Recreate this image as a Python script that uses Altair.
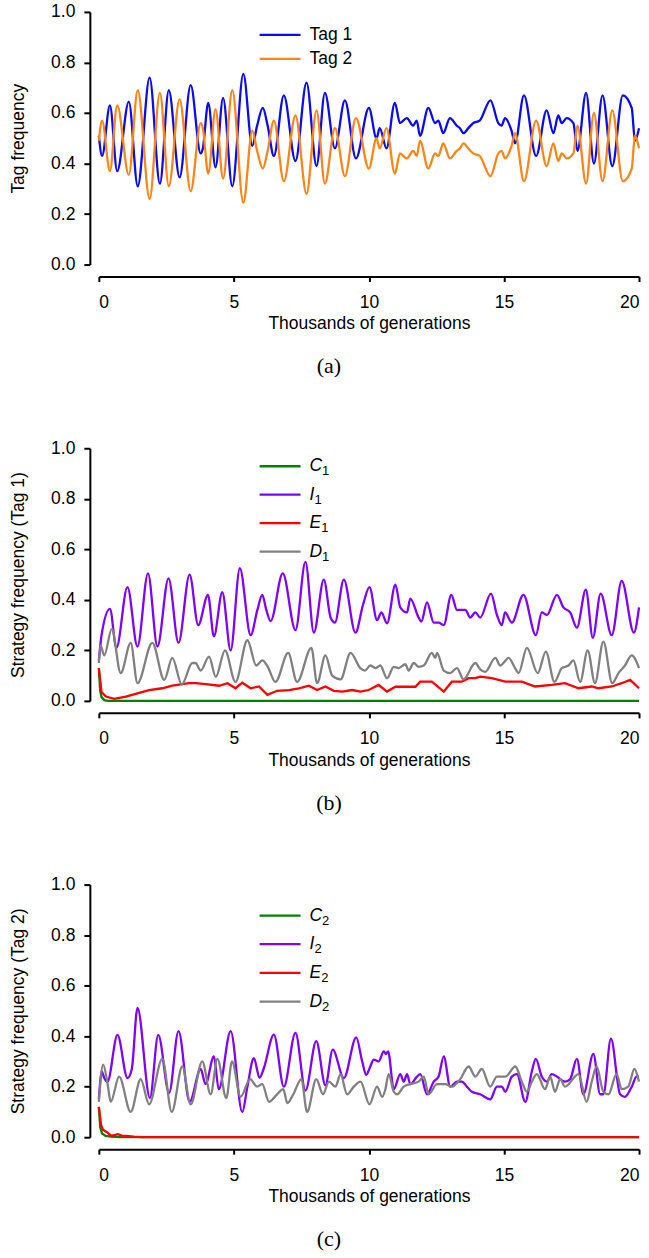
import altair as alt
import pandas as pd

# ---------------- data ----------------
x_ticks = [0, 5, 10, 15, 20]
y_ticks = [0.0, 0.2, 0.4, 0.6, 0.8, 1.0]

# panel (a): tag frequencies
tag_x = [0, 0.12, 0.41, 0.68, 1.11, 1.44, 1.88, 2.26, 2.59, 2.99, 3.40, 3.77, 3.85, 4.05, 4.32,
         4.60, 4.94, 5.35, 5.68, 5.86, 6.07, 6.25, 6.48, 6.85, 7.28, 7.69, 8.06, 8.37, 8.74, 9.11,
         9.52, 10.0, 10.28, 10.4, 10.65, 10.96, 11.15, 11.4, 11.64, 11.77, 11.89, 12.2, 12.45, 12.57,
         12.75, 13.0, 13.25, 13.37, 13.5, 13.68, 13.86, 14.1, 14.5, 14.79, 14.91, 15.04, 15.28, 15.41,
         15.74, 16.19, 16.58, 16.83, 17.01, 17.14, 17.32, 17.57, 17.72, 18.04, 18.33, 18.65, 19.01,
         19.4, 19.73, 19.85, 20.0]
tag1 = [0.51, 0.43, 0.63, 0.37, 0.645, 0.31, 0.74, 0.32, 0.69, 0.345, 0.71, 0.44, 0.46, 0.64, 0.385,
        0.66, 0.31, 0.755, 0.47, 0.55, 0.62, 0.55, 0.43, 0.67, 0.41, 0.72, 0.39, 0.68, 0.46, 0.65,
        0.42, 0.62, 0.50, 0.54, 0.46, 0.64, 0.56, 0.58, 0.55, 0.57, 0.51, 0.62, 0.56, 0.57,
        0.52, 0.58, 0.55, 0.54, 0.52, 0.54, 0.56, 0.57, 0.65, 0.56, 0.55, 0.58, 0.53, 0.48,
        0.67, 0.43, 0.61, 0.52, 0.59, 0.56, 0.58, 0.56, 0.45, 0.68, 0.40, 0.67, 0.39,
        0.67, 0.62, 0.49, 0.54]
tag2 = [0.49, 0.57, 0.37, 0.63, 0.355, 0.69, 0.26, 0.68, 0.31, 0.655, 0.29, 0.56, 0.54, 0.36, 0.615,
        0.34, 0.69, 0.245, 0.53, 0.45, 0.38, 0.45, 0.57, 0.33, 0.59, 0.28, 0.61, 0.32, 0.54, 0.35,
        0.58, 0.38, 0.50, 0.46, 0.54, 0.36, 0.44, 0.42, 0.45, 0.43, 0.49, 0.38, 0.44, 0.43,
        0.48, 0.42, 0.45, 0.46, 0.48, 0.46, 0.44, 0.43, 0.35, 0.44, 0.45, 0.42, 0.47, 0.52,
        0.33, 0.57, 0.39, 0.48, 0.41, 0.44, 0.42, 0.44, 0.55, 0.32, 0.60, 0.33, 0.61,
        0.33, 0.38, 0.51, 0.46]

# panel (b): strategies with tag 1
b_c_x = [0, 0.05, 0.1, 0.2, 0.35, 20]
b_c = [0.13, 0.04, 0.015, 0.003, 0.0, 0.0]
b_i_x = [0, 0.1, 0.41, 0.65, 1.06, 1.43, 1.82, 2.17, 2.58, 2.95, 3.36, 3.68, 4.04, 4.26, 4.57,
         4.88, 5.22, 5.62, 5.87, 6.05, 6.2, 6.36, 6.81, 7.28, 7.65, 7.96, 8.33, 8.58, 8.74, 9.07,
         9.5, 9.78, 10.02, 10.3, 10.46, 10.67, 10.98, 11.16, 11.41, 11.53, 11.84, 11.94, 12.15, 12.4,
         12.58, 12.77, 13.05, 13.26, 13.57, 13.75, 13.94, 14.12, 14.52, 14.74, 14.92, 15.04, 15.29,
         15.72, 16.18, 16.4, 16.59, 16.96, 17.2, 17.45, 17.7, 18.03, 18.29, 18.58, 18.99, 19.36,
         19.81, 20.0]
b_i = [0.16, 0.26, 0.364, 0.21, 0.45, 0.215, 0.505, 0.215, 0.485, 0.23, 0.50, 0.30, 0.42, 0.255, 0.43,
       0.20, 0.525, 0.26, 0.36, 0.42, 0.36, 0.316, 0.505, 0.28, 0.55, 0.27, 0.48, 0.33, 0.31, 0.48,
       0.27, 0.38, 0.45, 0.32, 0.35, 0.307, 0.46, 0.37, 0.35, 0.405, 0.33, 0.314, 0.39, 0.31,
       0.31, 0.30, 0.42, 0.36, 0.36, 0.33, 0.35, 0.33, 0.425, 0.34, 0.30, 0.35, 0.31,
       0.42, 0.26, 0.35, 0.34, 0.42, 0.37, 0.35, 0.29, 0.44, 0.25, 0.425, 0.26, 0.475,
       0.27, 0.37]
b_e_x = [0, 0.1, 0.26, 0.57, 1.0, 1.43, 1.86, 2.35, 2.72, 3.34, 3.59, 3.96, 4.45, 4.76, 5.06,
         5.31, 5.62, 5.93, 6.24, 6.6, 7.04, 7.41, 7.78, 8.08, 8.39, 8.7, 9.01, 9.38, 9.69, 9.99,
         10.36, 10.67, 10.98, 11.72, 11.9, 12.33, 12.77, 13.07, 13.44, 13.69, 13.94, 14.12, 14.55,
         15.05, 15.66, 16.15, 16.77, 17.26, 17.76, 18.25, 18.5, 18.99, 19.36, 19.67, 20.0]
b_e = [0.13, 0.035, 0.017, 0.008, 0.017, 0.03, 0.043, 0.05, 0.06, 0.07, 0.07, 0.066, 0.06, 0.07, 0.05,
       0.072, 0.05, 0.057, 0.024, 0.04, 0.043, 0.05, 0.06, 0.043, 0.057, 0.04, 0.037, 0.043, 0.037, 0.043,
       0.063, 0.037, 0.056, 0.056, 0.076, 0.076, 0.037, 0.076, 0.076, 0.09, 0.09, 0.096, 0.09,
       0.076, 0.076, 0.057, 0.063, 0.07, 0.05, 0.057, 0.05, 0.057, 0.07, 0.083, 0.05]
b_d_x = [0, 0.06, 0.2, 0.48, 0.81, 1.18, 1.43, 1.98, 2.42, 2.72, 3.07, 3.46, 3.58, 3.77, 4.08,
         4.33, 4.67, 5.06, 5.5, 5.83, 6.05, 6.23, 6.54, 7.01, 7.34, 7.87, 8.08, 8.39, 8.64, 8.95,
         9.32, 9.68, 9.85, 10.05, 10.24, 10.42, 10.67, 10.92, 11.1, 11.35, 11.47, 11.66, 11.84, 12.03,
         12.33, 12.46, 12.52, 12.77, 13.01, 13.26, 13.5, 13.94, 14.12, 14.3, 14.68, 14.86, 14.98,
         15.17, 15.41, 15.54, 15.85, 16.25, 16.55, 16.87, 17.14, 17.39, 17.57, 17.82, 18.1, 18.37,
         18.68, 19.01, 19.24, 19.48, 19.73, 20.0]
b_d = [0.15, 0.22, 0.18, 0.285, 0.11, 0.23, 0.07, 0.23, 0.083, 0.17, 0.065, 0.15, 0.15, 0.12, 0.175,
       0.095, 0.20, 0.075, 0.24, 0.14, 0.16, 0.14, 0.075, 0.19, 0.075, 0.21, 0.07, 0.18, 0.10, 0.085,
       0.19, 0.13, 0.12, 0.14, 0.13, 0.14, 0.09, 0.135, 0.13, 0.145, 0.12, 0.15, 0.135, 0.14,
       0.19, 0.17, 0.19, 0.12, 0.11, 0.13, 0.085, 0.15, 0.125, 0.115, 0.17, 0.14, 0.15,
       0.17, 0.13, 0.11, 0.21, 0.11, 0.195, 0.075, 0.13, 0.14, 0.16, 0.075, 0.20, 0.07,
       0.235, 0.07, 0.11, 0.14, 0.18, 0.13]

# panel (c): strategies with tag 2
c_c_x = [0, 0.05, 0.12, 0.25, 0.45, 0.8, 20]
c_c = [0.12, 0.04, 0.015, 0.005, 0.002, 0.0, 0.0]
c_i_x = [0, 0.11, 0.2, 0.32, 0.69, 1.06, 1.22, 1.43, 1.89, 2.2, 2.6, 2.95, 3.36, 3.77, 3.95,
         4.26, 4.44, 4.88, 5.31, 5.5, 5.74, 5.95, 6.1, 6.48, 6.85, 7.28, 7.65, 8.05, 8.39, 8.66,
         9.07, 9.53, 9.75, 9.9, 10.05, 10.18, 10.36, 10.55, 10.63, 10.71, 10.92, 11.16, 11.29, 11.41,
         11.53, 11.78, 11.9, 12.15, 12.4, 12.58, 12.77, 13.01, 13.26, 13.44, 13.63, 13.81, 14.12,
         14.49, 14.74, 14.92, 15.05, 15.29, 15.48, 15.79, 16.03, 16.18, 16.4, 16.59, 16.77, 16.96,
         17.26, 17.45, 17.7, 17.94, 18.31, 18.56, 18.68, 18.96, 19.3, 19.48, 19.73, 19.91, 20.0]
c_i = [0.15, 0.26, 0.234, 0.22, 0.405, 0.234, 0.27, 0.512, 0.155, 0.405, 0.175, 0.42, 0.14, 0.27, 0.21,
       0.32, 0.19, 0.42, 0.10, 0.20, 0.313, 0.235, 0.27, 0.406, 0.20, 0.413, 0.185, 0.38, 0.205, 0.347,
       0.234, 0.395, 0.30, 0.247, 0.28, 0.307, 0.30, 0.34, 0.33, 0.34, 0.19, 0.25, 0.22, 0.25,
       0.21, 0.24, 0.25, 0.17, 0.22, 0.24, 0.32, 0.20, 0.22, 0.22, 0.20, 0.18, 0.17,
       0.15, 0.20, 0.20, 0.18, 0.24, 0.25, 0.14, 0.26, 0.31, 0.24, 0.22, 0.25, 0.24,
       0.22, 0.23, 0.31, 0.17, 0.33, 0.17, 0.17, 0.39, 0.17, 0.16, 0.20, 0.24, 0.24]
c_e_x = [0, 0.08, 0.15, 0.3, 0.45, 0.58, 0.7, 0.85, 1.0, 1.3, 1.6, 20]
c_e = [0.12, 0.05, 0.03, 0.02, 0.006, 0.008, 0.012, 0.006, 0.005, 0.002, 0.0, 0.0]
c_d_x = [0, 0.16, 0.32, 0.44, 0.75, 1.18, 1.55, 1.86, 2.35, 2.7, 3.09, 3.4, 3.83, 4.14, 4.39,
         4.72, 4.93, 5.25, 5.6, 5.86, 6.05, 6.3, 6.6, 6.83, 6.98, 7.2, 7.5, 7.71, 8.05, 8.3,
         8.52, 8.76, 8.95, 9.19, 9.44, 9.69, 10.02, 10.3, 10.49, 10.61, 10.73, 10.92, 11.04, 11.29,
         11.53, 11.84, 12.03, 12.21, 12.52, 12.83, 13.07, 13.38, 13.69, 13.94, 14.18, 14.49, 14.74,
         15.05, 15.42, 15.66, 15.85, 16.03, 16.22, 16.52, 16.71, 16.89, 17.08, 17.26, 17.76, 18.06,
         18.25, 18.43, 18.68, 18.87, 19.17, 19.36, 19.6, 19.83, 20.0]
c_d = [0.14, 0.287, 0.214, 0.14, 0.24, 0.10, 0.23, 0.13, 0.31, 0.10, 0.28, 0.13, 0.30, 0.17, 0.31,
       0.155, 0.30, 0.16, 0.23, 0.20, 0.21, 0.14, 0.17, 0.19, 0.135, 0.17, 0.23, 0.10, 0.23, 0.17,
       0.22, 0.20, 0.25, 0.17, 0.20, 0.22, 0.13, 0.20, 0.16, 0.19, 0.25, 0.18, 0.17, 0.20,
       0.21, 0.22, 0.24, 0.17, 0.21, 0.21, 0.20, 0.23, 0.28, 0.24, 0.27, 0.20, 0.24,
       0.24, 0.28, 0.22, 0.18, 0.22, 0.25, 0.19, 0.24, 0.18, 0.23, 0.20, 0.25, 0.14,
       0.22, 0.28, 0.18, 0.17, 0.25, 0.19, 0.20, 0.27, 0.22]

tag_names = ["Tag 1", "Tag 2"]
strategy_letters = ["C", "I", "E", "D"]

# ---------------- style ----------------
BLUE, ORANGE = "#0a0af5", "#ff8517"
GREEN, PURPLE, RED, GRAY = "#008000", "#8000ff", "#ff0000", "#808080"
FONT = "Liberation Sans"
FS = 17.5
W, H = 541, 253
LW = 2.3
LETTER_W = {"C": 12.6, "I": 4.9, "E": 11.7, "D": 12.6}

xscale = alt.Scale(domain=[0, 20], nice=False, zero=False)
yscale = alt.Scale(domain=[0, 1], nice=False)

x_axis = alt.Axis(values=x_ticks, offset=12, tickSize=5, tickWidth=2, domainWidth=2,
                  domainColor="black", tickColor="black", labelColor="black", titleColor="black",
                  labelFont=FONT, labelFontSize=FS, titleFont=FONT, titleFontSize=FS,
                  titleFontWeight="normal", labelPadding=12, titlePadding=4, grid=False, format="d",
                  title="Thousands of generations")


def y_axis(title):
    return alt.Axis(values=y_ticks, offset=9, tickSize=6, tickWidth=2, domainWidth=2,
                    domainColor="black", tickColor="black", labelColor="black", titleColor="black",
                    labelFont=FONT, labelFontSize=FS, titleFont=FONT, titleFontSize=FS,
                    titleFontWeight="normal", labelPadding=9, titlePadding=23, grid=False,
                    format=".1f", title=title)


def panel(series, ytitle, caption, legend, leg_y0, leg_dy, subscript=None):
    layers = []
    yax = y_axis(ytitle)
    for k, (xs, ys, color, interp) in enumerate(series):
        assert len(xs) == len(ys), (caption, k, len(xs), len(ys))
        df = pd.DataFrame({"x": xs, "y": ys})
        layers.append(
            alt.Chart(df).mark_line(color=color, strokeWidth=LW, interpolate=interp).encode(
                x=alt.X("x:Q", scale=xscale, axis=x_axis),
                y=alt.Y("y:Q", scale=yscale, axis=yax),
            )
        )
    for i, (label, color) in enumerate(legend):
        yy = leg_y0 + i * leg_dy
        one = pd.DataFrame({"t": [label]})
        layers.append(alt.Chart(one).mark_rule(color=color, strokeWidth=LW).encode(
            x=alt.value(161), x2=alt.value(202), y=alt.value(yy)))
        layers.append(alt.Chart(one).mark_text(
            align="left", baseline="middle", font=FONT, fontSize=FS, color="black",
            fontStyle="italic" if subscript else "normal").encode(
            x=alt.value(211), y=alt.value(yy), text="t:N"))
        if subscript:
            sub = pd.DataFrame({"t": [subscript]})
            layers.append(alt.Chart(sub).mark_text(
                align="left", baseline="middle", font=FONT, fontSize=13, color="black").encode(
                x=alt.value(211 + LETTER_W[label]), y=alt.value(yy + 5), text="t:N"))
    return alt.layer(*layers).properties(
        width=W, height=H,
        title=alt.TitleParams(caption, orient="bottom", anchor="middle", dx=-40, offset=24,
                              font="Liberation Serif", fontSize=22, fontWeight="normal",
                              color="black"),
    )


pa = panel([(tag_x, tag1, BLUE, "monotone"), (tag_x, tag2, ORANGE, "monotone")],
           "Tag frequency", "(a)", list(zip(tag_names, [BLUE, ORANGE])), 23, 24)
pb = panel([(b_c_x, b_c, GREEN, "linear"), (b_i_x, b_i, PURPLE, "monotone"),
            (b_e_x, b_e, RED, "linear"), (b_d_x, b_d, GRAY, "monotone")],
           "Strategy frequency (Tag 1)", "(b)",
           list(zip(strategy_letters, [GREEN, PURPLE, RED, GRAY])), 18, 28.5, subscript="1")
pc = panel([(c_c_x, c_c, GREEN, "linear"), (c_i_x, c_i, PURPLE, "monotone"),
            (c_e_x, c_e, RED, "linear"), (c_d_x, c_d, GRAY, "monotone")],
           "Strategy frequency (Tag 2)", "(c)",
           list(zip(strategy_letters, [GREEN, PURPLE, RED, GRAY])), 31, 28.7, subscript="2")

chart = alt.vconcat(pa, pb, pc, spacing=62).properties(
    padding={"left": 9, "top": 2, "right": 5, "bottom": 5},
    background="white",
).configure_view(stroke=None)

chart.save("out.html", embed_options={"renderer": "svg", "actions": False})
